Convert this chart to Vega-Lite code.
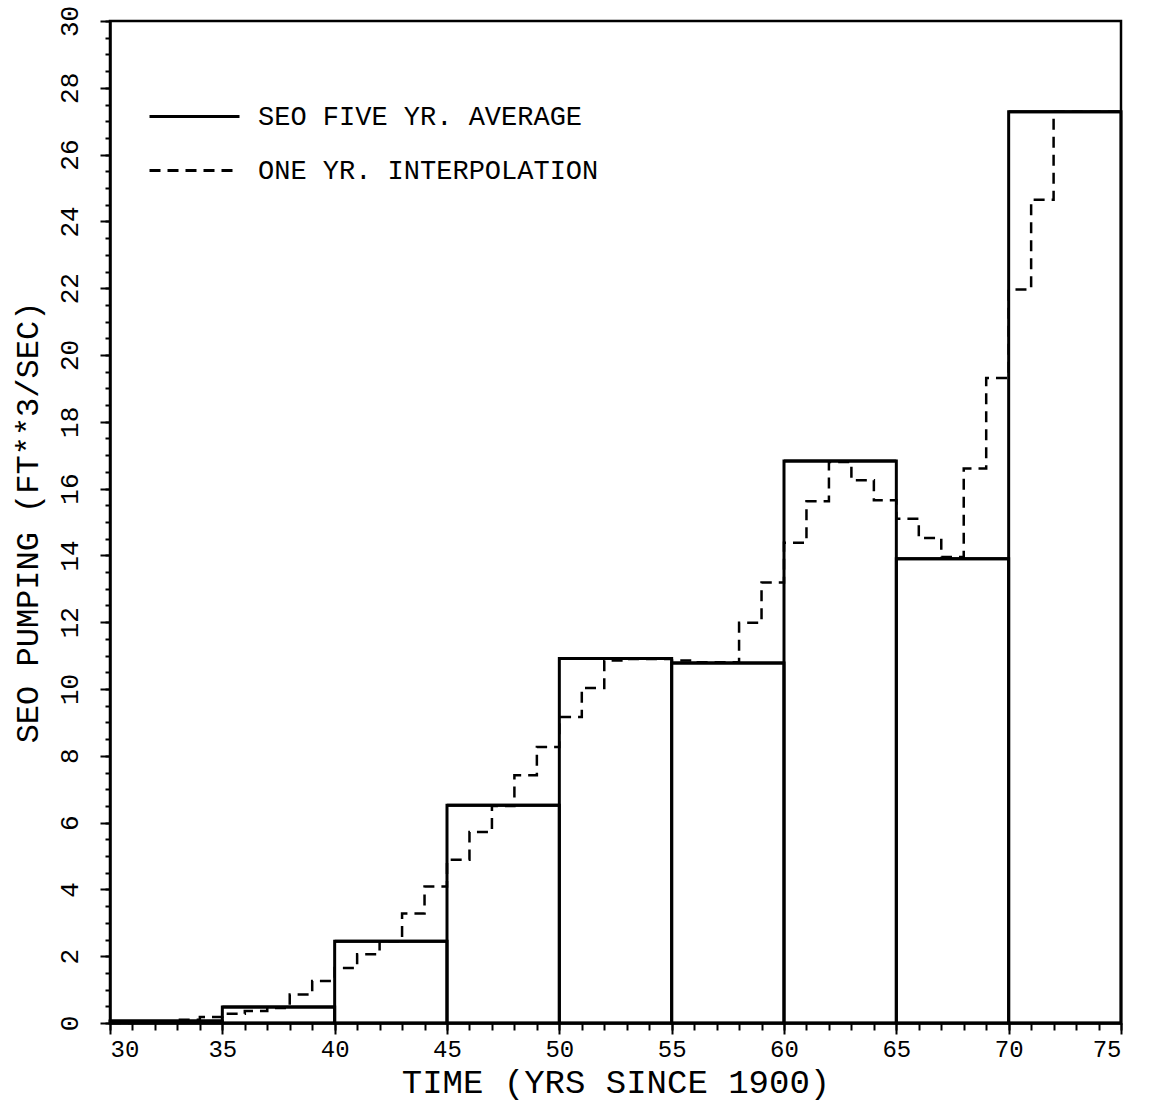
{
  "$schema": "https://vega.github.io/schema/vega-lite/v6.json",
  "width": 1011,
  "height": 1002,
  "autosize": {"type": "none"},
  "padding": {"left": 110, "top": 21, "right": 32, "bottom": 84},
  "background": "white",
  "config": {
    "view": {"stroke": "black", "strokeWidth": 2.5},
    "font": "Liberation Mono",
    "axis": {"grid": false, "domainColor": "black", "domainWidth": 2.5, "tickColor": "black", "tickWidth": 2, "labelColor": "black", "titleColor": "black", "labelFont": "Liberation Mono", "titleFont": "Liberation Mono", "titleFontWeight": "normal"}
  },
  "datasets": {
    "avg": [
      {"start": 30, "end": 35, "avg": 0.06, "series": "SEO FIVE YR. AVERAGE"},
      {"start": 35, "end": 40, "avg": 0.48, "series": "SEO FIVE YR. AVERAGE"},
      {"start": 40, "end": 45, "avg": 2.45, "series": "SEO FIVE YR. AVERAGE"},
      {"start": 45, "end": 50, "avg": 6.52, "series": "SEO FIVE YR. AVERAGE"},
      {"start": 50, "end": 55, "avg": 10.91, "series": "SEO FIVE YR. AVERAGE"},
      {"start": 55, "end": 60, "avg": 10.78, "series": "SEO FIVE YR. AVERAGE"},
      {"start": 60, "end": 65, "avg": 16.83, "series": "SEO FIVE YR. AVERAGE"},
      {"start": 65, "end": 70, "avg": 13.9, "series": "SEO FIVE YR. AVERAGE"},
      {"start": 70, "end": 75, "avg": 27.28, "series": "SEO FIVE YR. AVERAGE"}
    ],
    "interp": [
      {"year": 30, "value": 0.0, "series": "ONE YR. INTERPOLATION"},
      {"year": 31, "value": 0.02, "series": "ONE YR. INTERPOLATION"},
      {"year": 32, "value": 0.05, "series": "ONE YR. INTERPOLATION"},
      {"year": 33, "value": 0.1, "series": "ONE YR. INTERPOLATION"},
      {"year": 34, "value": 0.18, "series": "ONE YR. INTERPOLATION"},
      {"year": 35, "value": 0.28, "series": "ONE YR. INTERPOLATION"},
      {"year": 36, "value": 0.36, "series": "ONE YR. INTERPOLATION"},
      {"year": 37, "value": 0.45, "series": "ONE YR. INTERPOLATION"},
      {"year": 38, "value": 0.85, "series": "ONE YR. INTERPOLATION"},
      {"year": 39, "value": 1.26, "series": "ONE YR. INTERPOLATION"},
      {"year": 40, "value": 1.65, "series": "ONE YR. INTERPOLATION"},
      {"year": 41, "value": 2.06, "series": "ONE YR. INTERPOLATION"},
      {"year": 42, "value": 2.45, "series": "ONE YR. INTERPOLATION"},
      {"year": 43, "value": 3.28, "series": "ONE YR. INTERPOLATION"},
      {"year": 44, "value": 4.09, "series": "ONE YR. INTERPOLATION"},
      {"year": 45, "value": 4.89, "series": "ONE YR. INTERPOLATION"},
      {"year": 46, "value": 5.72, "series": "ONE YR. INTERPOLATION"},
      {"year": 47, "value": 6.5, "series": "ONE YR. INTERPOLATION"},
      {"year": 48, "value": 7.42, "series": "ONE YR. INTERPOLATION"},
      {"year": 49, "value": 8.26, "series": "ONE YR. INTERPOLATION"},
      {"year": 50, "value": 9.16, "series": "ONE YR. INTERPOLATION"},
      {"year": 51, "value": 10.03, "series": "ONE YR. INTERPOLATION"},
      {"year": 52, "value": 10.85, "series": "ONE YR. INTERPOLATION"},
      {"year": 53, "value": 10.9, "series": "ONE YR. INTERPOLATION"},
      {"year": 54, "value": 10.9, "series": "ONE YR. INTERPOLATION"},
      {"year": 55, "value": 10.85, "series": "ONE YR. INTERPOLATION"},
      {"year": 56, "value": 10.8, "series": "ONE YR. INTERPOLATION"},
      {"year": 57, "value": 10.8, "series": "ONE YR. INTERPOLATION"},
      {"year": 58, "value": 11.98, "series": "ONE YR. INTERPOLATION"},
      {"year": 59, "value": 13.19, "series": "ONE YR. INTERPOLATION"},
      {"year": 60, "value": 14.38, "series": "ONE YR. INTERPOLATION"},
      {"year": 61, "value": 15.62, "series": "ONE YR. INTERPOLATION"},
      {"year": 62, "value": 16.8, "series": "ONE YR. INTERPOLATION"},
      {"year": 63, "value": 16.25, "series": "ONE YR. INTERPOLATION"},
      {"year": 64, "value": 15.65, "series": "ONE YR. INTERPOLATION"},
      {"year": 65, "value": 15.1, "series": "ONE YR. INTERPOLATION"},
      {"year": 66, "value": 14.52, "series": "ONE YR. INTERPOLATION"},
      {"year": 67, "value": 13.95, "series": "ONE YR. INTERPOLATION"},
      {"year": 68, "value": 16.6, "series": "ONE YR. INTERPOLATION"},
      {"year": 69, "value": 19.31, "series": "ONE YR. INTERPOLATION"},
      {"year": 70, "value": 21.96, "series": "ONE YR. INTERPOLATION"},
      {"year": 71, "value": 24.65, "series": "ONE YR. INTERPOLATION"},
      {"year": 72, "value": 27.28, "series": "ONE YR. INTERPOLATION"},
      {"year": 73, "value": 27.28, "series": "ONE YR. INTERPOLATION"},
      {"year": 74, "value": 27.28, "series": "ONE YR. INTERPOLATION"},
      {"year": 75, "value": 27.28, "series": "ONE YR. INTERPOLATION"}
    ]
  },
  "layer": [
    {
      "data": {"name": "interp"},
      "mark": {"type": "line", "interpolate": "step-after", "color": "black", "strokeWidth": 2.5},
      "encoding": {
        "x": {"field": "year", "type": "quantitative", "scale": {"domain": [30, 75], "nice": false, "zero": false},
          "axis": {"orient": "bottom", "values": [30,31,32,33,34,35,36,37,38,39,40,41,42,43,44,45,46,47,48,49,50,51,52,53,54,55,56,57,58,59,60,61,62,63,64,65,66,67,68,69,70,71,72,73,74,75], "labels": false, "tickSize": 7, "domain": false, "title": null}},
        "y": {"field": "value", "type": "quantitative", "scale": {"domain": [0, 30], "nice": false},
          "axis": {"orient": "left", "values": [0,0.5,1,1.5,2,2.5,3,3.5,4,4.5,5,5.5,6,6.5,7,7.5,8,8.5,9,9.5,10,10.5,11,11.5,12,12.5,13,13.5,14,14.5,15,15.5,16,16.5,17,17.5,18,18.5,19,19.5,20,20.5,21,21.5,22,22.5,23,23.5,24,24.5,25,25.5,26,26.5,27,27.5,28,28.5,29,29.5,30], "labels": false, "tickSize": 5, "domain": false, "title": null}},
        "strokeDash": {"field": "series", "type": "nominal",
          "scale": {"domain": ["ONE YR. INTERPOLATION"], "range": [[11, 7]]},
          "legend": {"orient": "none", "legendX": 38, "legendY": 103, "title": null, "symbolType": "stroke", "symbolSize": 8100, "symbolStrokeWidth": 3, "symbolStrokeColor": "black", "labelFont": "Liberation Mono", "labelFontSize": 27, "labelColor": "black", "labelOffset": 17, "labelLimit": 700}}
      }
    },
    {
      "data": {"name": "avg"},
      "mark": {"type": "rect", "fill": "transparent", "stroke": "black", "strokeWidth": 3},
      "encoding": {
        "x": {"field": "start", "type": "quantitative", "scale": {"domain": [30, 75], "nice": false, "zero": false},
          "axis": {"orient": "bottom", "values": [30, 35, 40, 45, 50, 55, 60, 65, 70, 75], "tickSize": 11, "labelFontSize": 24, "labelPadding": 3, "title": "TIME (YRS SINCE 1900)", "titleFontSize": 34, "titlePadding": 4}},
        "x2": {"field": "end"},
        "y": {"field": "avg", "type": "quantitative", "scale": {"domain": [0, 30], "nice": false},
          "axis": {"orient": "left", "values": [0,2,4,6,8,10,12,14,16,18,20,22,24,26,28,30], "tickSize": 10, "labelAngle": -90, "labelAlign": "center", "labelBaseline": "bottom", "labelFontSize": 26, "labelPadding": 18, "title": "SEO PUMPING (FT**3/SEC)", "titleFontSize": 32, "titlePadding": 12}},
        "y2": {"datum": 0}
      }
    },
    {
      "data": {"name": "avg"},
      "mark": {"type": "rule", "color": "black", "strokeWidth": 3},
      "encoding": {
        "x": {"field": "start", "type": "quantitative", "scale": {"domain": [30, 75], "nice": false, "zero": false}, "axis": null},
        "x2": {"field": "end"},
        "y": {"field": "avg", "type": "quantitative", "scale": {"domain": [0, 30], "nice": false}, "axis": null},
        "strokeDash": {"field": "series", "type": "nominal",
          "scale": {"domain": ["SEO FIVE YR. AVERAGE"], "range": [[1, 0]]},
          "legend": {"orient": "none", "legendX": 38, "legendY": 49, "title": null, "symbolType": "stroke", "symbolSize": 8100, "symbolStrokeWidth": 3, "symbolStrokeColor": "black", "labelFont": "Liberation Mono", "labelFontSize": 27, "labelColor": "black", "labelOffset": 17, "labelLimit": 700}}
      }
    }
  ],
  "resolve": {"axis": {"x": "independent", "y": "independent"}, "scale": {"strokeDash": "independent"}, "legend": {"strokeDash": "independent"}}
}
